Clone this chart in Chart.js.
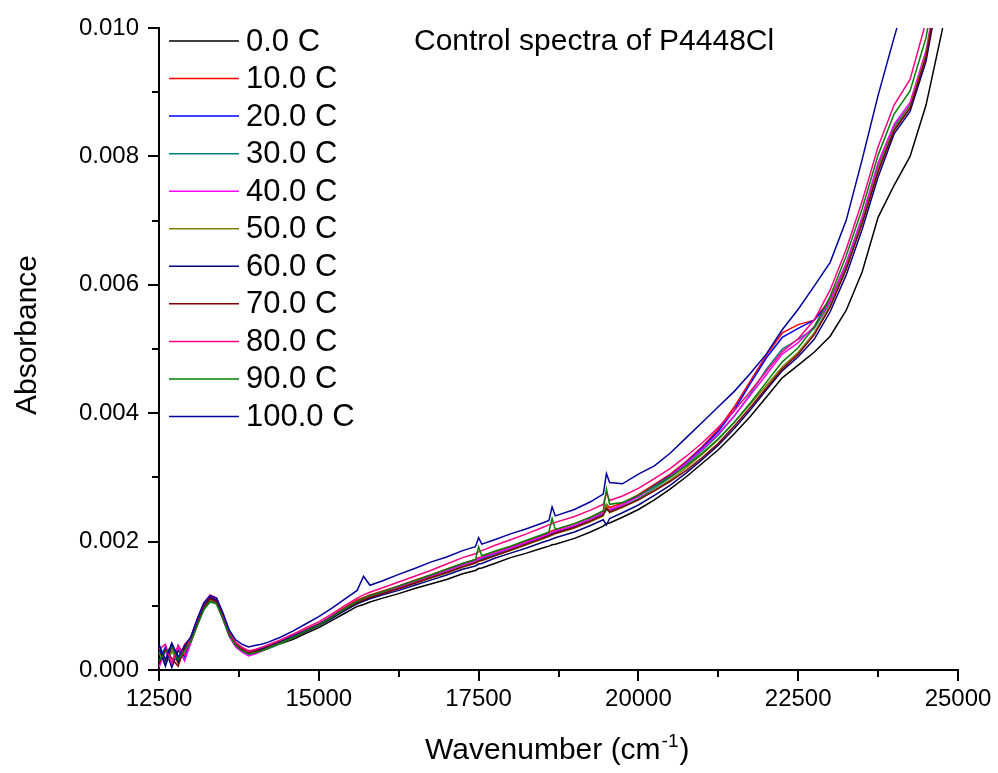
<!DOCTYPE html>
<html>
<head>
<meta charset="utf-8">
<title>Control spectra of P4448Cl</title>
<script src="https://cdn.jsdelivr.net/npm/chart.js@4/dist/chart.umd.min.js"></script>
<style>
  html, body { margin: 0; padding: 0; background: #fff; }
  canvas { display: block; }
</style>
</head>
<body>
<canvas id="spectra" width="998" height="773"></canvas>
<script>
// wavenumber grid (cm-1), shared by all temperatures
var wavenumber = [12500, 12600, 12700, 12800, 12900, 13000, 13100, 13200, 13300, 13400,
  13500, 13600, 13700, 13800, 13900, 14000, 14100, 14200, 14400, 14600,
  14800, 15000, 15200, 15400, 15600, 15700, 15800, 16000, 16250, 16500,
  16750, 17000, 17250, 17450, 17500, 17550, 17750, 18000, 18250, 18500,
  18600, 18650, 18700, 19000, 19250, 19450, 19500, 19550, 19750, 20000,
  20250, 20500, 20750, 21000, 21250, 21500, 21750, 22000, 22250, 22500,
  22750, 23000, 23250, 23500, 23750, 24000, 24250, 24500, 24750, 25000];

var labels = ['0.0 C', '10.0 C', '20.0 C', '30.0 C', '40.0 C', '50.0 C', '60.0 C', '70.0 C', '80.0 C', '90.0 C', '100.0 C'];
var colors = ['#000000', '#FF0000', '#0000FF', '#008080', '#FF00FF', '#808000', '#000080', '#800000', '#FF0080', '#008000', '#0000A0'];

var abs0 = [0.00006, 0.00034, 0.00004, 0.00030, 0.00022, 0.00044, 0.00070, 0.00097, 0.00114, 0.00108,
  0.00083, 0.00056, 0.00041, 0.00033, 0.00027, 0.00029, 0.00030, 0.00033, 0.00041, 0.00048,
  0.00057, 0.00066, 0.00077, 0.00088, 0.00099, 0.00102, 0.00106, 0.00112, 0.00119, 0.00127,
  0.00134, 0.00141, 0.00150, 0.00155, 0.00158, 0.00159, 0.00166, 0.00175, 0.00182, 0.00190,
  0.00193, 0.00195, 0.00196, 0.00205, 0.00215, 0.00224, 0.00228, 0.00229, 0.00238, 0.00250,
  0.00265, 0.00282, 0.00301, 0.00322, 0.00343, 0.00368, 0.00395, 0.00425, 0.00455, 0.00475,
  0.00495, 0.00520, 0.00560, 0.00620, 0.00705, 0.00755, 0.00800, 0.00880, 0.00995, 0.01130];
var abs10 = [0.00038, 0.00010, 0.00036, 0.00014, 0.00040, 0.00050, 0.00076, 0.00100, 0.00113, 0.00110,
  0.00086, 0.00058, 0.00043, 0.00035, 0.00030, 0.00031, 0.00034, 0.00037, 0.00045, 0.00054,
  0.00063, 0.00072, 0.00084, 0.00097, 0.00109, 0.00113, 0.00117, 0.00123, 0.00131, 0.00140,
  0.00148, 0.00157, 0.00166, 0.00172, 0.00175, 0.00176, 0.00184, 0.00192, 0.00201, 0.00210,
  0.00214, 0.00217, 0.00218, 0.00228, 0.00238, 0.00247, 0.00258, 0.00253, 0.00260, 0.00273,
  0.00289, 0.00305, 0.00325, 0.00348, 0.00375, 0.00410, 0.00450, 0.00490, 0.00525, 0.00538,
  0.00545, 0.00578, 0.00632, 0.00702, 0.00785, 0.00846, 0.00878, 0.00958, 0.01095, 0.01250];
var abs20 = [0.00012, 0.00036, 0.00006, 0.00038, 0.00020, 0.00049, 0.00074, 0.00099, 0.00112, 0.00109,
  0.00084, 0.00057, 0.00041, 0.00034, 0.00029, 0.00030, 0.00033, 0.00036, 0.00044, 0.00053,
  0.00062, 0.00071, 0.00083, 0.00095, 0.00107, 0.00111, 0.00115, 0.00121, 0.00129, 0.00137,
  0.00146, 0.00155, 0.00164, 0.00170, 0.00173, 0.00174, 0.00181, 0.00190, 0.00198, 0.00207,
  0.00211, 0.00213, 0.00215, 0.00224, 0.00235, 0.00243, 0.00250, 0.00249, 0.00257, 0.00271,
  0.00287, 0.00303, 0.00323, 0.00346, 0.00372, 0.00405, 0.00446, 0.00486, 0.00518, 0.00532,
  0.00545, 0.00574, 0.00630, 0.00698, 0.00778, 0.00842, 0.00876, 0.00955, 0.01090, 0.01245];
var abs30 = [0.00030, 0.00008, 0.00028, 0.00034, 0.00016, 0.00044, 0.00070, 0.00094, 0.00106, 0.00103,
  0.00080, 0.00053, 0.00037, 0.00029, 0.00024, 0.00026, 0.00029, 0.00033, 0.00041, 0.00050,
  0.00060, 0.00069, 0.00081, 0.00093, 0.00105, 0.00109, 0.00113, 0.00119, 0.00127, 0.00135,
  0.00144, 0.00152, 0.00161, 0.00167, 0.00170, 0.00172, 0.00179, 0.00187, 0.00196, 0.00205,
  0.00209, 0.00211, 0.00213, 0.00222, 0.00232, 0.00242, 0.00250, 0.00246, 0.00254, 0.00267,
  0.00283, 0.00300, 0.00320, 0.00342, 0.00366, 0.00395, 0.00430, 0.00468, 0.00500, 0.00515,
  0.00532, 0.00572, 0.00630, 0.00700, 0.00783, 0.00846, 0.00880, 0.00960, 0.01100, 0.01255];
var abs40 = [0.00004, 0.00030, 0.00012, 0.00036, 0.00014, 0.00043, 0.00071, 0.00096, 0.00109, 0.00104,
  0.00079, 0.00052, 0.00036, 0.00028, 0.00022, 0.00025, 0.00029, 0.00034, 0.00042, 0.00051,
  0.00061, 0.00070, 0.00082, 0.00095, 0.00107, 0.00111, 0.00115, 0.00121, 0.00129, 0.00137,
  0.00146, 0.00155, 0.00164, 0.00170, 0.00173, 0.00175, 0.00182, 0.00190, 0.00199, 0.00208,
  0.00212, 0.00214, 0.00216, 0.00225, 0.00235, 0.00245, 0.00254, 0.00250, 0.00257, 0.00270,
  0.00286, 0.00302, 0.00322, 0.00344, 0.00368, 0.00396, 0.00428, 0.00460, 0.00492, 0.00510,
  0.00535, 0.00575, 0.00634, 0.00706, 0.00790, 0.00850, 0.00884, 0.00965, 0.01105, 0.01265];
var abs50 = [0.00026, 0.00014, 0.00030, 0.00010, 0.00032, 0.00046, 0.00072, 0.00095, 0.00108, 0.00104,
  0.00081, 0.00055, 0.00039, 0.00031, 0.00026, 0.00028, 0.00030, 0.00034, 0.00042, 0.00050,
  0.00060, 0.00069, 0.00081, 0.00093, 0.00105, 0.00109, 0.00113, 0.00119, 0.00127, 0.00135,
  0.00143, 0.00151, 0.00160, 0.00166, 0.00169, 0.00170, 0.00178, 0.00186, 0.00195, 0.00204,
  0.00208, 0.00210, 0.00212, 0.00221, 0.00231, 0.00240, 0.00258, 0.00245, 0.00253, 0.00265,
  0.00280, 0.00296, 0.00315, 0.00336, 0.00359, 0.00386, 0.00414, 0.00443, 0.00472, 0.00495,
  0.00525, 0.00568, 0.00626, 0.00698, 0.00780, 0.00843, 0.00878, 0.00960, 0.01098, 0.01255];
var abs60 = [0.00036, 0.00006, 0.00040, 0.00012, 0.00034, 0.00050, 0.00075, 0.00099, 0.00112, 0.00108,
  0.00084, 0.00058, 0.00042, 0.00034, 0.00029, 0.00031, 0.00033, 0.00036, 0.00043, 0.00051,
  0.00060, 0.00069, 0.00080, 0.00092, 0.00103, 0.00107, 0.00111, 0.00117, 0.00124, 0.00132,
  0.00140, 0.00148, 0.00157, 0.00162, 0.00165, 0.00166, 0.00174, 0.00182, 0.00190, 0.00199,
  0.00202, 0.00204, 0.00206, 0.00215, 0.00225, 0.00234, 0.00226, 0.00236, 0.00245, 0.00257,
  0.00272, 0.00288, 0.00307, 0.00328, 0.00350, 0.00376, 0.00405, 0.00436, 0.00466, 0.00488,
  0.00515, 0.00558, 0.00615, 0.00686, 0.00768, 0.00835, 0.00870, 0.00948, 0.01085, 0.01240];
var abs70 = [0.00010, 0.00032, 0.00018, 0.00006, 0.00036, 0.00047, 0.00073, 0.00098, 0.00111, 0.00106,
  0.00082, 0.00055, 0.00040, 0.00032, 0.00027, 0.00029, 0.00031, 0.00035, 0.00043, 0.00051,
  0.00061, 0.00070, 0.00082, 0.00094, 0.00105, 0.00109, 0.00113, 0.00119, 0.00127, 0.00135,
  0.00144, 0.00152, 0.00161, 0.00167, 0.00170, 0.00171, 0.00178, 0.00187, 0.00196, 0.00205,
  0.00209, 0.00211, 0.00213, 0.00222, 0.00232, 0.00241, 0.00252, 0.00246, 0.00254, 0.00265,
  0.00279, 0.00294, 0.00311, 0.00331, 0.00353, 0.00380, 0.00409, 0.00439, 0.00469, 0.00492,
  0.00522, 0.00565, 0.00624, 0.00695, 0.00776, 0.00840, 0.00875, 0.00955, 0.01092, 0.01250];
var abs80 = [0.00032, 0.00040, 0.00010, 0.00038, 0.00024, 0.00052, 0.00079, 0.00104, 0.00117, 0.00112,
  0.00087, 0.00059, 0.00043, 0.00035, 0.00029, 0.00032, 0.00035, 0.00039, 0.00047, 0.00056,
  0.00066, 0.00075, 0.00087, 0.00100, 0.00112, 0.00117, 0.00121, 0.00128, 0.00137, 0.00146,
  0.00155, 0.00165, 0.00175, 0.00181, 0.00184, 0.00186, 0.00194, 0.00203, 0.00212, 0.00222,
  0.00226, 0.00228, 0.00230, 0.00239, 0.00249, 0.00258, 0.00276, 0.00264, 0.00271, 0.00283,
  0.00298, 0.00314, 0.00333, 0.00354, 0.00378, 0.00404, 0.00434, 0.00465, 0.00496, 0.00516,
  0.00545, 0.00592, 0.00655, 0.00730, 0.00815, 0.00880, 0.00920, 0.01010, 0.01150, 0.01300];
var abs90 = [0.00014, 0.00028, 0.00036, 0.00016, 0.00030, 0.00045, 0.00070, 0.00094, 0.00107, 0.00103,
  0.00080, 0.00054, 0.00038, 0.00030, 0.00025, 0.00027, 0.00030, 0.00034, 0.00042, 0.00051,
  0.00061, 0.00070, 0.00082, 0.00095, 0.00107, 0.00112, 0.00116, 0.00122, 0.00131, 0.00139,
  0.00148, 0.00157, 0.00166, 0.00172, 0.00192, 0.00178, 0.00185, 0.00193, 0.00202, 0.00211,
  0.00215, 0.00236, 0.00219, 0.00228, 0.00238, 0.00248, 0.00282, 0.00258, 0.00261, 0.00272,
  0.00286, 0.00301, 0.00318, 0.00338, 0.00360, 0.00386, 0.00416, 0.00448, 0.00480, 0.00502,
  0.00534, 0.00582, 0.00645, 0.00718, 0.00802, 0.00866, 0.00902, 0.00985, 0.01125, 0.01280];
var abs100 = [0.00040, 0.00016, 0.00042, 0.00020, 0.00038, 0.00052, 0.00080, 0.00104, 0.00116, 0.00112,
  0.00089, 0.00062, 0.00047, 0.00040, 0.00036, 0.00038, 0.00040, 0.00043, 0.00051, 0.00061,
  0.00072, 0.00083, 0.00096, 0.00110, 0.00124, 0.00146, 0.00132, 0.00139, 0.00149, 0.00158,
  0.00168, 0.00176, 0.00186, 0.00192, 0.00206, 0.00196, 0.00203, 0.00212, 0.00220, 0.00229,
  0.00233, 0.00254, 0.00240, 0.00250, 0.00262, 0.00274, 0.00306, 0.00292, 0.00290, 0.00305,
  0.00318, 0.00338, 0.00362, 0.00386, 0.00410, 0.00434, 0.00462, 0.00492, 0.00530, 0.00562,
  0.00598, 0.00635, 0.00700, 0.00795, 0.00895, 0.00985, 0.01070, 0.01180, 0.01300, 0.01450];

var series = [abs0, abs10, abs20, abs30, abs40, abs50, abs60, abs70, abs80, abs90, abs100];

var xTicks = [12500, 15000, 17500, 20000, 22500, 25000];
var xMinor = [13750, 16250, 18750, 21250, 23750];
var yMinor = [0.001, 0.003, 0.005, 0.007, 0.009];

var FONT = "'Liberation Sans', Arial, Helvetica, sans-serif";

var datasets = [];
for (var i = 0; i < series.length; i++) {
  datasets.push({
    label: labels[i],
    data: wavenumber.map(function (w, j) { return { x: w, y: this[j] }; }, series[i]),
    borderColor: colors[i],
    backgroundColor: colors[i],
    borderWidth: 1.5,
    pointRadius: 0,
    tension: 0,
    order: series.length - i
  });
}

// legend, title, axis titles and minor ticks
var decorations = {
  id: 'decorations',
  afterDraw: function (chart) {
    var ctx = chart.ctx;
    var xs = chart.scales.x, ys = chart.scales.y;
    var area = chart.chartArea;
    ctx.save();

    // minor ticks
    ctx.strokeStyle = '#000';
    ctx.lineWidth = 2;
    ctx.beginPath();
    xMinor.forEach(function (v) {
      var px = Math.round(xs.getPixelForValue(v));
      ctx.moveTo(px, area.bottom);
      ctx.lineTo(px, area.bottom + 7);
    });
    yMinor.forEach(function (v) {
      var py = Math.round(ys.getPixelForValue(v));
      ctx.moveTo(area.left, py);
      ctx.lineTo(area.left - 7, py);
    });
    ctx.stroke();

    // legend
    ctx.font = '31px ' + FONT;
    ctx.textBaseline = 'middle';
    ctx.textAlign = 'left';
    for (var k = 0; k < labels.length; k++) {
      var y = 41 + k * 37.55;
      ctx.strokeStyle = colors[k];
      ctx.lineWidth = 1.5;
      ctx.beginPath();
      ctx.moveTo(169, y);
      ctx.lineTo(239, y);
      ctx.stroke();
      ctx.fillStyle = '#000';
      ctx.fillText(labels[k], 246, y + 1);
    }

    // title
    ctx.font = '30px ' + FONT;
    ctx.fillText('Control spectra of P4448Cl', 414, 42);

    // y axis title
    ctx.save();
    ctx.translate(28, 335);
    ctx.rotate(-Math.PI / 2);
    ctx.textAlign = 'center';
    ctx.font = '30px ' + FONT;
    ctx.fillText('Absorbance', 0, 0);
    ctx.restore();

    // x axis title with superscript
    ctx.textBaseline = 'alphabetic';
    ctx.textAlign = 'left';
    var x0 = 425, base = 759;
    ctx.font = '30px ' + FONT;
    var part1 = 'Wavenumber (cm';
    ctx.fillText(part1, x0, base);
    var w1 = ctx.measureText(part1).width;
    ctx.font = '19px ' + FONT;
    ctx.fillText('-1', x0 + w1 + 1, base - 12);
    var w2 = ctx.measureText('-1').width;
    ctx.font = '30px ' + FONT;
    ctx.fillText(')', x0 + w1 + w2 + 2, base);

    ctx.restore();
  }
};

new Chart(document.getElementById('spectra').getContext('2d'), {
  type: 'line',
  data: { datasets: datasets },
  options: {
    responsive: false,
    animation: false,
    layout: { padding: { top: 28, right: 40, left: 0, bottom: 0 } },
    plugins: {
      legend: { display: false },
      tooltip: { enabled: false },
      title: { display: false }
    },
    scales: {
      x: {
        type: 'linear',
        min: 12500,
        max: 25000,
        afterFit: function (s) { s.height = 103; },
        afterBuildTicks: function (s) { s.ticks = xTicks.map(function (v) { return { value: v }; }); },
        ticks: {
          color: '#000',
          font: { family: FONT, size: 24 },
          padding: 4,
          maxRotation: 0,
          callback: function (v) { return String(v); }
        },
        grid: { drawOnChartArea: false, drawTicks: true, tickLength: 11, color: '#000', lineWidth: 2 },
        border: { display: true, color: '#000', width: 2 }
      },
      y: {
        min: 0,
        max: 0.010,
        afterFit: function (s) { s.width = 159; },
        ticks: {
          stepSize: 0.002,
          color: '#000',
          font: { family: FONT, size: 24 },
          padding: 9,
          callback: function (v) { return Number(v).toFixed(3); }
        },
        grid: { drawOnChartArea: false, drawTicks: true, tickLength: 11, color: '#000', lineWidth: 2 },
        border: { display: true, color: '#000', width: 2 }
      }
    }
  },
  plugins: [decorations]
});
</script>
</body>
</html>
